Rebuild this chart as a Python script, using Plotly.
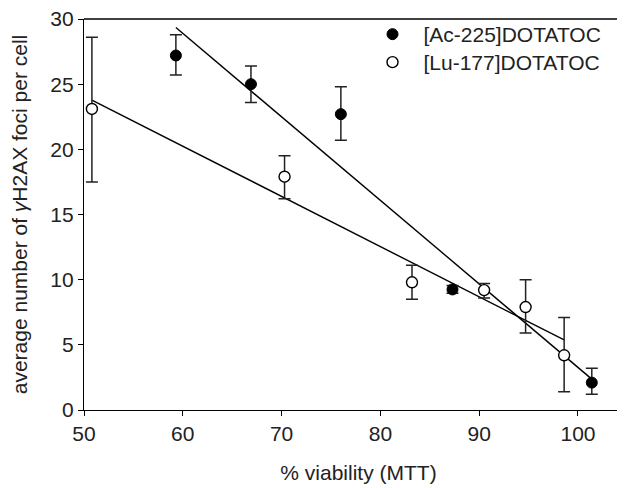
import numpy as np
import plotly.graph_objects as go

# Data
ac_x = [59.3, 66.9, 76.0, 87.3, 101.4]
ac_y = [27.2, 25.0, 22.7, 9.25, 2.1]
ac_err_up = [1.6, 1.4, 2.1, 0.3, 1.1]
ac_err_down = [1.5, 1.4, 2.0, 0.3, 0.9]

lu_x = [50.8, 70.3, 83.2, 90.5, 94.7, 98.6]
lu_y = [23.1, 17.9, 9.8, 9.2, 7.9, 4.2]
lu_err_up = [5.5, 1.6, 1.3, 0.5, 2.1, 2.9]
lu_err_down = [5.6, 1.7, 1.3, 0.6, 2.0, 2.8]

x_ticks = [50, 60, 70, 80, 90, 100]
y_ticks = [0, 5, 10, 15, 20, 25, 30]

FONT = "Liberation Sans, Arial, sans-serif"

fig = go.Figure()

# Linear regression lines (least-squares fits of each series)
for xs, ys in [(ac_x, ac_y), (lu_x, lu_y)]:
    m, b = np.polyfit(xs, ys, 1)
    xl = np.array([min(xs), max(xs)])
    fig.add_trace(go.Scatter(x=xl, y=m * xl + b, mode="lines",
                             line=dict(color="black", width=1.4),
                             showlegend=False, hoverinfo="skip"))

fig.add_trace(go.Scatter(
    x=ac_x, y=ac_y, mode="markers", name="[Ac-225]DOTATOC", legend="legend",
    marker=dict(symbol="circle", size=11, color="black",
                line=dict(color="black", width=1)),
    error_y=dict(type="data", array=ac_err_up, arrayminus=ac_err_down,
                 color="#222222", thickness=1.5, width=6),
))
fig.add_trace(go.Scatter(
    x=lu_x, y=lu_y, mode="markers", name="[Lu-177]DOTATOC", legend="legend2",
    marker=dict(symbol="circle", size=11, color="white",
                line=dict(color="black", width=1.4)),
    error_y=dict(type="data", array=lu_err_up, arrayminus=lu_err_down,
                 color="#222222", thickness=1.5, width=6),
))

leg_common = dict(xref="container", yref="container", xanchor="left",
                  yanchor="top", bgcolor="rgba(0,0,0,0)", font=dict(size=21),
                  itemwidth=52)

# frame line along the top of the plot area
fig.add_shape(type="line", xref="paper", yref="paper", x0=0, x1=1, y0=1, y1=1,
              line=dict(color="black", width=1.4), layer="above")

# page body has an 8px default margin, so the figure is offset by 8px;
# the plot runs past the right edge of the window as in the reference
fig.update_layout(
    width=625, height=488,
    margin=dict(l=76, r=0, t=11, b=86, autoexpand=False),
    paper_bgcolor="white", plot_bgcolor="white",
    font=dict(family=FONT, size=21, color="#222222"),
    legend=dict(x=353.5 / 625, y=1 - 6 / 488, **leg_common),
    legend2=dict(x=353.5 / 625, y=1 - 34 / 488, **leg_common),
    xaxis=dict(range=[50, 105.57], tickvals=x_ticks, ticks="outside",
               ticklen=5, tickwidth=1.4, tickcolor="black",
               showline=True, linecolor="black", linewidth=1.4,
               mirror=False, showgrid=False, zeroline=False,
               tickfont=dict(size=21), automargin=False,
               ticklabeloverflow="allow",
               title=dict(text="% viability (MTT)", font=dict(size=21),
                          standoff=20)),
    yaxis=dict(range=[0, 30], tickvals=y_ticks, ticks="outside",
               ticklen=5, tickwidth=1.4, tickcolor="black",
               showline=True, linecolor="black", linewidth=1.4,
               mirror=False, showgrid=False, zeroline=False,
               tickfont=dict(size=21), automargin=False,
               ticklabeloverflow="allow",
               title=dict(text="average number of <i>γ</i>H2AX foci per cell",
                          font=dict(size=21), standoff=17)),
)

fig.write_html("out.html")
